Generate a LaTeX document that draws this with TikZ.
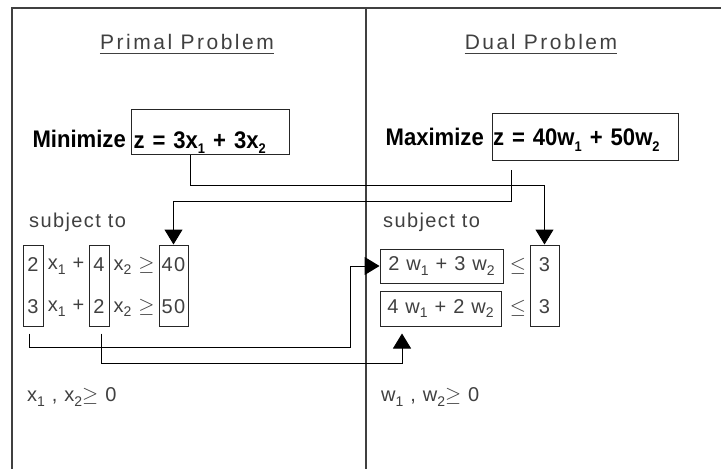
\documentclass[tikz,border=0pt]{standalone}
\usepackage{fontspec}
\setmainfont{Liberation Sans}
\newfontfamily\thinfont[LetterSpace=7]{Liberation Sans}
\newfontfamily\titlefont[LetterSpace=12]{Liberation Sans}
\newfontfamily\heavyfont[FakeStretch=0.92]{Liberation Sans}
\usetikzlibrary{arrows.meta}
\newcommand\lo[1]{\raisebox{-0.45ex}{\fontsize{14}{14}\selectfont #1}}
\begin{document}
\begin{tikzpicture}[x=1pt,y=-1pt,
  frame/.style={line width=1.3pt, draw=black!75},
  box/.style={draw=black!85, line width=1pt, inner sep=0pt},
  conn/.style={line width=1pt, draw=black},
  arr/.style={conn, -{Triangle[length=15pt,width=18pt]}},
  thin/.style={text=black!75, inner sep=0pt, font=\thinfont\fontsize{20}{42}\selectfont},
  ttl/.style={text=black!75, inner sep=0pt, font=\titlefont\fontsize{21}{24}\selectfont},
  bold/.style={text=black, inner sep=0pt, font=\heavyfont\bfseries\fontsize{24}{26}\selectfont}]
\useasboundingbox (0,0) rectangle (721,469);
\fill[white] (0,0) rectangle (721,469);
% frame
\draw[frame] (12,469) -- (12,8) -- (721,8);
\draw[frame] (366,8) -- (366,469);
% titles
\node[ttl] (tP) at (187,42) {Primal Problem};
\node[ttl] (tD) at (541,42) {Dual Problem};
\coordinate (ul) at (0,53);
\draw[line width=1pt, black!75] (tP.west |- ul) -- (tP.east |- ul);
\draw[line width=1pt, black!75] (tD.west |- ul) -- (tD.east |- ul);
% objectives
\node[bold, anchor=base east] (minT) at (126,147) {Minimize};
\node[box, bold, anchor=north west, minimum width=158pt, minimum height=45pt,
      text width=154pt, inner xsep=2pt, align=left, text height=32pt, text depth=0pt] (zP) at (131,109)
      {z = 3x\lo{1} + 3x\lo{2}};
\node[bold, anchor=base east] (maxT) at (484,145) {Maximize};
\node[box, bold, anchor=north west, minimum width=186pt, minimum height=47pt,
      text width=185pt, inner xsep=0.5pt, align=left, text height=17pt, text depth=0pt] (zD) at (492,113)
      {z = 40w\lo{1} + 50w\lo{2}};
% subject to
\node[thin, anchor=west] (sP) at (29,222) {subject to};
\node[thin, anchor=west] (sD) at (383,222) {subject to};
% primal constraints
\node[box, thin, minimum width=20pt, minimum height=81pt, align=center] (cP1) at (33,285.5) {2\\3};
\node[box, thin, minimum width=20pt, minimum height=81pt, align=center] (cP2) at (99,285.5) {4\\2};
\node[box, thin, minimum width=29pt, minimum height=81pt, align=center] (cP3) at (173.5,285.5) {40\\50};
\node[thin] (xa1) at (66,266) {x\lo{1} +};
\node[thin] (xa2) at (66,308) {x\lo{1} +};
\node[thin] (xb1) at (134,266) {x\lo{2} $\geq$};
\node[thin] (xb2) at (134,308) {x\lo{2} $\geq$};
% dual constraints
\node[box, thin, minimum width=123pt, minimum height=34pt] (dB1) at (441.5,266) {2 w\lo{1} + 3 w\lo{2}};
\node[box, thin, minimum width=121pt, minimum height=35pt] (dB2) at (440.5,308.5) {4 w\lo{1} + 2 w\lo{2}};
\node[thin] (le1) at (518,266) {$\leq$};
\node[thin] (le2) at (518,308) {$\leq$};
\node[box, thin, minimum width=29pt, minimum height=81pt, align=center] (dB3) at (544.5,285.5) {3\\3};
% nonnegativity
\node[thin, anchor=west] (nP) at (27,397) {x\lo{1} , x\lo{2}$\geq$ 0};
\node[thin, anchor=west] (nD) at (381,397) {w\lo{1} , w\lo{2}$\geq$ 0};
% connectors
\coordinate (a1) at (190,185);
\draw[arr] (a1 |- zP.south) -- (a1) -- (a1 -| dB3.north) -- (dB3.north);
\coordinate (b1) at (511,201);
\draw[arr] ([yshift=-9pt]b1 |- zD.south) -- (b1) -- (b1 -| cP3.north) -- (cP3.north);
\coordinate (c1) at (29,347);
\coordinate (c2) at (350,347);
\draw[arr] ([yshift=-7pt]c1 |- cP1.south) -- (c1) -- (c2) -- (c2 |- dB1.west) -- (dB1.west);
\coordinate (d1) at (101,363);
\coordinate (d2) at (402,363);
\draw[arr] ([yshift=-7pt]d1 |- cP2.south) -- (d1) -- (d2) -- ([yshift=-7pt]d2 |- dB2.south);
\end{tikzpicture}
\end{document}
